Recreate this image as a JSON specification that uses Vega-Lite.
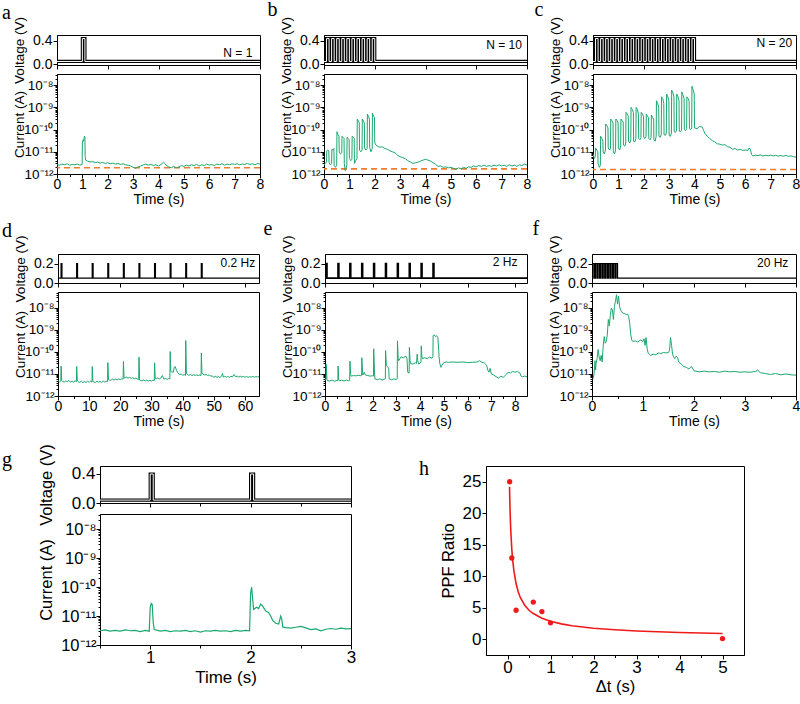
{
"$schema":"https://vega.github.io/schema/vega-lite/v6.json",
"padding":{"top":0,"left":2,"right":0,"bottom":0},
"config":{
 "view":{"stroke":"black","strokeWidth":1},
 "font":"Liberation Sans",
 "axis":{"domainColor":"black","tickColor":"black","labelColor":"black","titleColor":"black","grid":false,"labelFont":"Liberation Sans","titleFont":"Liberation Sans","labelFontSize":14,"titleFontSize":13.5,"titleFontWeight":"normal","labelPadding":1,"tickSize":4,"titlePadding":4,"labelFlush":false,"labelOverlap":false},
 "title":{"anchor":"start","frame":"bounds","font":"Liberation Serif","fontSize":20,"fontWeight":"normal","offset":-4}
},
"concat":[
{"concat":[
{"spacing":0,"hconcat":[
 {"title":{"text":"a","offset":12},"width":6,"height":10,"view":{"stroke":null},"data":{"values":[]},"mark":{"type":"point"}},
 {"bounds":"flush","spacing":9,"vconcat":[
  {"width":203,"height":30,
   "data":{"values":[{"t":0,"v":0.05},{"t":1.0,"v":0.05},{"t":1.0,"v":0.44},{"t":1.1,"v":0.44},{"t":1.1,"v":0.05},{"t":8,"v":0.05}]},
   "layer":[
    {"mark":{"type":"line","color":"black","strokeWidth":3.2},"encoding":{
     "x":{"field":"t","type":"quantitative","scale":{"domain":[0,8],"nice":false},"axis":{"title":null,"labels":false,"values":[0,0.5,1,1.5,2,2.5,3,3.5,4,4.5,5,5.5,6,6.5,7,7.5,8],"tickSize":{"condition":{"test":"datum.value%1==0","value":4},"value":2.5}}},
     "y":{"field":"v","type":"quantitative","scale":{"domain":[-0.01,0.5],"nice":false,"zero":false},"axis":{"title":"Voltage (V)","titleX":-31,"values":[0,0.2,0.4],"format":".1f"}},
     "order":{"value":null}}},
    {"mark":{"type":"line","color":"white","strokeWidth":1},"encoding":{"x":{"field":"t","type":"quantitative"},"y":{"field":"v","type":"quantitative"},"order":{"value":null}}},
    {"transform":[{"filter":"datum.t==8"}],"mark":{"type":"text","text":"N = 1","align":"right","baseline":"middle","fontSize":12,"font":"Liberation Sans","color":"black"},"encoding":{"x":{"datum":7.7,"type":"quantitative"},"y":{"datum":0.2,"type":"quantitative"}}}
   ]},
  {"width":203,"height":100,
   "layer":[
    {"data":{"values":[{"i":1.9e-12}]},"mark":{"type":"rule","color":"#f07d2c","strokeWidth":1.6,"strokeDash":[6,4]},"encoding":{"y":{"field":"i","type":"quantitative"}}},
    {"data":{"values":[{"t":0,"i":2.7e-12},{"t":0.1,"i":2.5e-12},{"t":0.2,"i":2.8e-12},{"t":0.3,"i":2.6e-12},{"t":0.4,"i":2.9e-12},{"t":0.5,"i":2.5e-12},{"t":0.6,"i":2.7e-12},{"t":0.7,"i":2.6e-12},{"t":0.8,"i":2.8e-12},{"t":0.9,"i":2.5e-12},{"t":0.99,"i":2.7e-12},{"t":1.0,"i":2.5e-11},{"t":1.03,"i":3.5e-11},{"t":1.05,"i":3.0e-11},{"t":1.08,"i":5.0e-11},{"t":1.1,"i":4.5e-11},{"t":1.11,"i":6e-12},{"t":1.13,"i":4.2e-12},{"t":1.2,"i":3.8e-12},{"t":1.3,"i":3.5e-12},{"t":1.4,"i":3.6e-12},{"t":1.5,"i":3.3e-12},{"t":1.6,"i":3.4e-12},{"t":1.7,"i":3.1e-12},{"t":1.8,"i":3.3e-12},{"t":1.9,"i":3.0e-12},{"t":2.0,"i":3.2e-12},{"t":2.1,"i":2.9e-12},{"t":2.2,"i":3.1e-12},{"t":2.3,"i":2.8e-12},{"t":2.4,"i":3.0e-12},{"t":2.5,"i":2.7e-12},{"t":2.6,"i":2.9e-12},{"t":2.7,"i":2.6e-12},{"t":2.8,"i":2.5e-12},{"t":2.9,"i":2.3e-12},{"t":3.0,"i":2.0e-12},{"t":3.1,"i":1.8e-12},{"t":3.2,"i":2.1e-12},{"t":3.3,"i":2.3e-12},{"t":3.4,"i":2.6e-12},{"t":3.5,"i":2.8e-12},{"t":3.6,"i":2.5e-12},{"t":3.7,"i":2.7e-12},{"t":3.8,"i":2.4e-12},{"t":3.9,"i":2.6e-12},{"t":4.0,"i":2.3e-12},{"t":4.1,"i":2.7e-12},{"t":4.2,"i":3.4e-12},{"t":4.25,"i":3.0e-12},{"t":4.3,"i":2.5e-12},{"t":4.4,"i":2.1e-12},{"t":4.5,"i":1.9e-12},{"t":4.6,"i":2.2e-12},{"t":4.7,"i":1.9e-12},{"t":4.8,"i":2.1e-12},{"t":4.9,"i":2.4e-12},{"t":5.0,"i":2.2e-12},{"t":5.1,"i":2.5e-12},{"t":5.2,"i":2.3e-12},{"t":5.3,"i":2.6e-12},{"t":5.4,"i":2.4e-12},{"t":5.5,"i":2.7e-12},{"t":5.6,"i":2.3e-12},{"t":5.7,"i":2.6e-12},{"t":5.8,"i":2.4e-12},{"t":5.9,"i":2.8e-12},{"t":6.0,"i":2.5e-12},{"t":6.1,"i":2.7e-12},{"t":6.2,"i":2.4e-12},{"t":6.3,"i":2.8e-12},{"t":6.4,"i":2.6e-12},{"t":6.5,"i":2.9e-12},{"t":6.6,"i":2.5e-12},{"t":6.7,"i":2.8e-12},{"t":6.8,"i":2.6e-12},{"t":6.9,"i":2.9e-12},{"t":7.0,"i":2.7e-12},{"t":7.1,"i":2.9e-12},{"t":7.2,"i":2.6e-12},{"t":7.3,"i":2.8e-12},{"t":7.4,"i":2.7e-12},{"t":7.5,"i":3.0e-12},{"t":7.6,"i":2.7e-12},{"t":7.7,"i":2.9e-12},{"t":7.8,"i":2.6e-12},{"t":7.9,"i":3.0e-12},{"t":8.0,"i":2.8e-12}]},
     "mark":{"type":"line","color":"#1ba86e","strokeWidth":1,"clip":true},
     "encoding":{
      "x":{"field":"t","type":"quantitative","scale":{"domain":[0,8],"nice":false},"axis":{"title":"Time (s)","titleFontSize":14,"labelPadding":-1,"titlePadding":1,"values":[0,0.5,1,1.5,2,2.5,3,3.5,4,4.5,5,5.5,6,6.5,7,7.5,8],"labelExpr":"datum.value%1==0?format(datum.value,'d'):''","tickSize":{"condition":{"test":"datum.value%1==0","value":4},"value":2.5}}},
      "y":{"field":"i","type":"quantitative","scale":{"type":"log","domain":[1e-12,3.2e-8],"nice":false},"axis":{"title":"Current (A)","titleX":-31,"labelFontSize":13.5,"labelPadding":0,"values":[1e-12,2e-12,3e-12,4e-12,5e-12,6e-12,7e-12,8e-12,9e-12,1e-11,2e-11,3e-11,4e-11,5e-11,6e-11,7e-11,8e-11,9e-11,1e-10,2e-10,3e-10,4e-10,5e-10,6e-10,7e-10,8e-10,9e-10,1e-9,2e-9,3e-9,4e-9,5e-9,6e-9,7e-9,8e-9,9e-9,1e-8,2e-8,3e-8],"labelExpr":"datum.value==1e-8?'10⁻⁸':datum.value==1e-9?'10⁻⁹':datum.value==1e-10?'10⁻¹⁰':datum.value==1e-11?'10⁻¹¹':datum.value==1e-12?'10⁻¹²':''","tickSize":{"condition":{"test":"indexof([1e-12,1e-11,1e-10,1e-9,1e-8],datum.value)>=0","value":4},"value":2}}},
      "order":{"value":null}}}
   ]}
 ]},
 {"title":{"text":"b","dx":-11},"bounds":"flush","spacing":9,"vconcat":[
  {"width":203,"height":30,
   "data":{"values":[{"t":0,"v":0.05},{"t":0.1,"v":0.05},{"t":0.1,"v":0.44},{"t":0.2,"v":0.44},{"t":0.2,"v":0.05},{"t":0.3,"v":0.05},{"t":0.3,"v":0.44},{"t":0.4,"v":0.44},{"t":0.4,"v":0.05},{"t":0.5,"v":0.05},{"t":0.5,"v":0.44},{"t":0.6,"v":0.44},{"t":0.6,"v":0.05},{"t":0.7,"v":0.05},{"t":0.7,"v":0.44},{"t":0.8,"v":0.44},{"t":0.8,"v":0.05},{"t":0.9,"v":0.05},{"t":0.9,"v":0.44},{"t":1.0,"v":0.44},{"t":1.0,"v":0.05},{"t":1.1,"v":0.05},{"t":1.1,"v":0.44},{"t":1.2,"v":0.44},{"t":1.2,"v":0.05},{"t":1.3,"v":0.05},{"t":1.3,"v":0.44},{"t":1.4,"v":0.44},{"t":1.4,"v":0.05},{"t":1.5,"v":0.05},{"t":1.5,"v":0.44},{"t":1.6,"v":0.44},{"t":1.6,"v":0.05},{"t":1.7,"v":0.05},{"t":1.7,"v":0.44},{"t":1.8,"v":0.44},{"t":1.8,"v":0.05},{"t":1.9,"v":0.05},{"t":1.9,"v":0.44},{"t":2.0,"v":0.44},{"t":2.0,"v":0.05},{"t":8,"v":0.05}]},
   "layer":[
    {"mark":{"type":"line","color":"black","strokeWidth":3.2},"encoding":{
     "x":{"field":"t","type":"quantitative","scale":{"domain":[0,8],"nice":false},"axis":{"title":null,"labels":false,"values":[0,0.5,1,1.5,2,2.5,3,3.5,4,4.5,5,5.5,6,6.5,7,7.5,8],"tickSize":{"condition":{"test":"datum.value%1==0","value":4},"value":2.5}}},
     "y":{"field":"v","type":"quantitative","scale":{"domain":[-0.01,0.5],"nice":false,"zero":false},"axis":{"title":"Voltage (V)","titleX":-31,"values":[0,0.2,0.4],"format":".1f"}},
     "order":{"value":null}}},
    {"mark":{"type":"line","color":"white","strokeWidth":1},"encoding":{"x":{"field":"t","type":"quantitative"},"y":{"field":"v","type":"quantitative"},"order":{"value":null}}},
    {"transform":[{"filter":"datum.t==8"}],"mark":{"type":"text","text":"N = 10","align":"right","baseline":"middle","fontSize":12,"font":"Liberation Sans","color":"black"},"encoding":{"x":{"datum":7.8,"type":"quantitative"},"y":{"datum":0.33,"type":"quantitative"}}}
   ]},
  {"width":203,"height":100,
   "layer":[
    {"data":{"values":[{"i":1.7e-12}]},"mark":{"type":"rule","color":"#f07d2c","strokeWidth":1.6,"strokeDash":[6,4]},"encoding":{"y":{"field":"i","type":"quantitative"}}},
    {"data":{"values":[{"t":0,"i":2.5e-12},{"t":0.05,"i":3.0e-12},{"t":0.1,"i":3.5e-12},{"t":0.11,"i":1.1e-11},{"t":0.15,"i":1.2e-11},{"t":0.19,"i":1.1e-11},{"t":0.2,"i":3.2e-12},{"t":0.25,"i":2.6e-12},{"t":0.3,"i":3.0e-12},{"t":0.31,"i":1.3e-11},{"t":0.35,"i":1.2e-11},{"t":0.39,"i":1.4e-11},{"t":0.4,"i":2.4e-12},{"t":0.45,"i":2.0e-12},{"t":0.5,"i":2.5e-12},{"t":0.51,"i":8e-11},{"t":0.55,"i":6e-11},{"t":0.59,"i":5e-11},{"t":0.6,"i":1e-11},{"t":0.65,"i":8e-12},{"t":0.7,"i":9e-12},{"t":0.71,"i":5e-11},{"t":0.75,"i":4.5e-11},{"t":0.79,"i":4e-11},{"t":0.8,"i":3e-12},{"t":0.84,"i":1.4e-12},{"t":0.9,"i":2.5e-12},{"t":0.91,"i":4.5e-11},{"t":0.95,"i":4e-11},{"t":0.99,"i":3.5e-11},{"t":1.0,"i":5e-12},{"t":1.05,"i":4e-12},{"t":1.1,"i":4.5e-12},{"t":1.11,"i":5e-11},{"t":1.15,"i":4.5e-11},{"t":1.19,"i":4e-11},{"t":1.2,"i":3e-12},{"t":1.25,"i":4e-12},{"t":1.3,"i":5e-12},{"t":1.31,"i":3e-10},{"t":1.35,"i":2.5e-10},{"t":1.39,"i":2e-10},{"t":1.4,"i":1.2e-11},{"t":1.45,"i":1e-11},{"t":1.5,"i":1.2e-11},{"t":1.51,"i":3e-10},{"t":1.55,"i":2.5e-10},{"t":1.59,"i":2e-10},{"t":1.6,"i":1.5e-11},{"t":1.65,"i":1.2e-11},{"t":1.7,"i":1.4e-11},{"t":1.71,"i":5e-10},{"t":1.75,"i":4e-10},{"t":1.79,"i":3e-10},{"t":1.8,"i":1.5e-11},{"t":1.85,"i":1e-11},{"t":1.9,"i":1.4e-11},{"t":1.91,"i":5.5e-10},{"t":1.95,"i":4e-10},{"t":1.99,"i":3.5e-10},{"t":2.0,"i":2.5e-11},{"t":2.05,"i":2e-11},{"t":2.1,"i":1.8e-11},{"t":2.2,"i":1.6e-11},{"t":2.3,"i":1.7e-11},{"t":2.4,"i":1.4e-11},{"t":2.5,"i":1.3e-11},{"t":2.6,"i":1.1e-11},{"t":2.7,"i":1.0e-11},{"t":2.8,"i":9e-12},{"t":2.9,"i":7e-12},{"t":3.0,"i":6e-12},{"t":3.1,"i":5.5e-12},{"t":3.2,"i":5e-12},{"t":3.3,"i":4e-12},{"t":3.4,"i":3.5e-12},{"t":3.5,"i":3e-12},{"t":3.6,"i":3.2e-12},{"t":3.7,"i":3.4e-12},{"t":3.8,"i":3.8e-12},{"t":3.9,"i":4.2e-12},{"t":4.0,"i":4.6e-12},{"t":4.1,"i":4.2e-12},{"t":4.2,"i":3.8e-12},{"t":4.3,"i":3.2e-12},{"t":4.4,"i":2.7e-12},{"t":4.5,"i":2.2e-12},{"t":4.6,"i":2.3e-12},{"t":4.7,"i":2.0e-12},{"t":4.8,"i":2.1e-12},{"t":4.9,"i":1.9e-12},{"t":5.0,"i":2.0e-12},{"t":5.1,"i":1.8e-12},{"t":5.2,"i":1.6e-12},{"t":5.3,"i":1.9e-12},{"t":5.4,"i":1.7e-12},{"t":5.5,"i":2.0e-12},{"t":5.6,"i":1.8e-12},{"t":5.7,"i":2.1e-12},{"t":5.8,"i":2.0e-12},{"t":5.9,"i":2.3e-12},{"t":6.0,"i":2.1e-12},{"t":6.1,"i":2.4e-12},{"t":6.2,"i":2.2e-12},{"t":6.3,"i":2.5e-12},{"t":6.4,"i":2.2e-12},{"t":6.5,"i":2.4e-12},{"t":6.6,"i":2.2e-12},{"t":6.7,"i":2.5e-12},{"t":6.8,"i":2.3e-12},{"t":6.9,"i":2.6e-12},{"t":7.0,"i":2.3e-12},{"t":7.1,"i":2.5e-12},{"t":7.2,"i":2.2e-12},{"t":7.3,"i":2.6e-12},{"t":7.4,"i":2.3e-12},{"t":7.5,"i":2.5e-12},{"t":7.6,"i":2.2e-12},{"t":7.7,"i":2.6e-12},{"t":7.8,"i":2.4e-12},{"t":7.9,"i":2.8e-12},{"t":8.0,"i":2.5e-12}]},
     "mark":{"type":"line","color":"#1ba86e","strokeWidth":1,"clip":true},
     "encoding":{
      "x":{"field":"t","type":"quantitative","scale":{"domain":[0,8],"nice":false},"axis":{"title":"Time (s)","titleFontSize":14,"labelPadding":-1,"titlePadding":1,"values":[0,0.5,1,1.5,2,2.5,3,3.5,4,4.5,5,5.5,6,6.5,7,7.5,8],"labelExpr":"datum.value%1==0?format(datum.value,'d'):''","tickSize":{"condition":{"test":"datum.value%1==0","value":4},"value":2.5}}},
      "y":{"field":"i","type":"quantitative","scale":{"type":"log","domain":[1e-12,3.2e-8],"nice":false},"axis":{"title":"Current (A)","titleX":-31,"labelFontSize":13.5,"labelPadding":0,"values":[1e-12,2e-12,3e-12,4e-12,5e-12,6e-12,7e-12,8e-12,9e-12,1e-11,2e-11,3e-11,4e-11,5e-11,6e-11,7e-11,8e-11,9e-11,1e-10,2e-10,3e-10,4e-10,5e-10,6e-10,7e-10,8e-10,9e-10,1e-9,2e-9,3e-9,4e-9,5e-9,6e-9,7e-9,8e-9,9e-9,1e-8,2e-8,3e-8],"labelExpr":"datum.value==1e-8?'10⁻⁸':datum.value==1e-9?'10⁻⁹':datum.value==1e-10?'10⁻¹⁰':datum.value==1e-11?'10⁻¹¹':datum.value==1e-12?'10⁻¹²':''","tickSize":{"condition":{"test":"indexof([1e-12,1e-11,1e-10,1e-9,1e-8],datum.value)>=0","value":4},"value":2}}},
      "order":{"value":null}}}
   ]}
 ]},
 {"title":{"text":"c","dx":-13},"bounds":"flush","spacing":9,"vconcat":[
  {"width":203,"height":30,
   "data":{"values":[{"t":0,"v":0.05},{"t":0.1,"v":0.05},{"t":0.1,"v":0.44},{"t":0.2,"v":0.44},{"t":0.2,"v":0.05},{"t":0.3,"v":0.05},{"t":0.3,"v":0.44},{"t":0.4,"v":0.44},{"t":0.4,"v":0.05},{"t":0.5,"v":0.05},{"t":0.5,"v":0.44},{"t":0.6,"v":0.44},{"t":0.6,"v":0.05},{"t":0.7,"v":0.05},{"t":0.7,"v":0.44},{"t":0.8,"v":0.44},{"t":0.8,"v":0.05},{"t":0.9,"v":0.05},{"t":0.9,"v":0.44},{"t":1.0,"v":0.44},{"t":1.0,"v":0.05},{"t":1.1,"v":0.05},{"t":1.1,"v":0.44},{"t":1.2,"v":0.44},{"t":1.2,"v":0.05},{"t":1.3,"v":0.05},{"t":1.3,"v":0.44},{"t":1.4,"v":0.44},{"t":1.4,"v":0.05},{"t":1.5,"v":0.05},{"t":1.5,"v":0.44},{"t":1.6,"v":0.44},{"t":1.6,"v":0.05},{"t":1.7,"v":0.05},{"t":1.7,"v":0.44},{"t":1.8,"v":0.44},{"t":1.8,"v":0.05},{"t":1.9,"v":0.05},{"t":1.9,"v":0.44},{"t":2.0,"v":0.44},{"t":2.0,"v":0.05},{"t":2.1,"v":0.05},{"t":2.1,"v":0.44},{"t":2.2,"v":0.44},{"t":2.2,"v":0.05},{"t":2.3,"v":0.05},{"t":2.3,"v":0.44},{"t":2.4,"v":0.44},{"t":2.4,"v":0.05},{"t":2.5,"v":0.05},{"t":2.5,"v":0.44},{"t":2.6,"v":0.44},{"t":2.6,"v":0.05},{"t":2.7,"v":0.05},{"t":2.7,"v":0.44},{"t":2.8,"v":0.44},{"t":2.8,"v":0.05},{"t":2.9,"v":0.05},{"t":2.9,"v":0.44},{"t":3.0,"v":0.44},{"t":3.0,"v":0.05},{"t":3.1,"v":0.05},{"t":3.1,"v":0.44},{"t":3.2,"v":0.44},{"t":3.2,"v":0.05},{"t":3.3,"v":0.05},{"t":3.3,"v":0.44},{"t":3.4,"v":0.44},{"t":3.4,"v":0.05},{"t":3.5,"v":0.05},{"t":3.5,"v":0.44},{"t":3.6,"v":0.44},{"t":3.6,"v":0.05},{"t":3.7,"v":0.05},{"t":3.7,"v":0.44},{"t":3.8,"v":0.44},{"t":3.8,"v":0.05},{"t":3.9,"v":0.05},{"t":3.9,"v":0.44},{"t":4.0,"v":0.44},{"t":4.0,"v":0.05},{"t":8,"v":0.05}]},
   "layer":[
    {"mark":{"type":"line","color":"black","strokeWidth":3.2},"encoding":{
     "x":{"field":"t","type":"quantitative","scale":{"domain":[0,8],"nice":false},"axis":{"title":null,"labels":false,"values":[0,0.5,1,1.5,2,2.5,3,3.5,4,4.5,5,5.5,6,6.5,7,7.5,8],"tickSize":{"condition":{"test":"datum.value%1==0","value":4},"value":2.5}}},
     "y":{"field":"v","type":"quantitative","scale":{"domain":[-0.01,0.5],"nice":false,"zero":false},"axis":{"title":"Voltage (V)","titleX":-31,"values":[0,0.2,0.4],"format":".1f"}},
     "order":{"value":null}}},
    {"mark":{"type":"line","color":"white","strokeWidth":1},"encoding":{"x":{"field":"t","type":"quantitative"},"y":{"field":"v","type":"quantitative"},"order":{"value":null}}},
    {"transform":[{"filter":"datum.t==8"}],"mark":{"type":"text","text":"N = 20","align":"right","baseline":"middle","fontSize":12,"font":"Liberation Sans","color":"black"},"encoding":{"x":{"datum":7.85,"type":"quantitative"},"y":{"datum":0.36,"type":"quantitative"}}}
   ]},
  {"width":203,"height":100,
   "layer":[
    {"data":{"values":[{"i":1.6e-12}]},"mark":{"type":"rule","color":"#f07d2c","strokeWidth":1.6,"strokeDash":[6,4]},"encoding":{"y":{"field":"i","type":"quantitative"}}},
    {"data":{"values":[{"t":0,"i":8e-12},{"t":0.05,"i":5e-12},{"t":0.09,"i":6e-12},{"t":0.1,"i":1.5e-11},{"t":0.15,"i":1.2e-11},{"t":0.19,"i":1e-11},{"t":0.2,"i":3e-12},{"t":0.25,"i":2e-12},{"t":0.29,"i":2.5e-12},{"t":0.3,"i":5e-11},{"t":0.35,"i":4e-11},{"t":0.39,"i":3e-11},{"t":0.4,"i":1e-11},{"t":0.45,"i":8e-12},{"t":0.49,"i":1.2e-11},{"t":0.5,"i":1.8e-10},{"t":0.55,"i":1.5e-10},{"t":0.59,"i":1.2e-10},{"t":0.6,"i":1.5e-11},{"t":0.65,"i":1.2e-11},{"t":0.69,"i":1.4e-11},{"t":0.7,"i":3e-10},{"t":0.75,"i":2.5e-10},{"t":0.79,"i":2e-10},{"t":0.8,"i":1e-11},{"t":0.85,"i":8e-12},{"t":0.89,"i":1.2e-11},{"t":0.9,"i":3e-10},{"t":0.95,"i":2.6e-10},{"t":0.99,"i":2e-10},{"t":1.0,"i":1.5e-11},{"t":1.05,"i":1.2e-11},{"t":1.09,"i":1.8e-11},{"t":1.1,"i":3e-10},{"t":1.15,"i":2.5e-10},{"t":1.19,"i":2.2e-10},{"t":1.2,"i":2e-11},{"t":1.25,"i":1.8e-11},{"t":1.29,"i":2.5e-11},{"t":1.3,"i":6e-10},{"t":1.35,"i":5e-10},{"t":1.39,"i":4e-10},{"t":1.4,"i":3e-11},{"t":1.45,"i":2.5e-11},{"t":1.49,"i":3.5e-11},{"t":1.5,"i":1e-9},{"t":1.55,"i":8e-10},{"t":1.59,"i":6e-10},{"t":1.6,"i":3e-11},{"t":1.65,"i":2.8e-11},{"t":1.69,"i":4e-11},{"t":1.7,"i":1e-9},{"t":1.75,"i":8e-10},{"t":1.79,"i":5e-10},{"t":1.8,"i":4e-11},{"t":1.85,"i":3.5e-11},{"t":1.89,"i":4.5e-11},{"t":1.9,"i":6e-10},{"t":1.95,"i":5e-10},{"t":1.99,"i":4e-10},{"t":2.0,"i":4.5e-11},{"t":2.05,"i":4e-11},{"t":2.09,"i":5e-11},{"t":2.1,"i":5e-10},{"t":2.15,"i":4e-10},{"t":2.19,"i":3.5e-10},{"t":2.2,"i":4e-11},{"t":2.25,"i":3.5e-11},{"t":2.29,"i":4.5e-11},{"t":2.3,"i":4.5e-10},{"t":2.35,"i":3.5e-10},{"t":2.39,"i":3e-10},{"t":2.4,"i":3.5e-11},{"t":2.45,"i":3e-11},{"t":2.49,"i":5e-11},{"t":2.5,"i":2e-9},{"t":2.55,"i":1.5e-9},{"t":2.59,"i":1e-9},{"t":2.6,"i":5e-11},{"t":2.65,"i":4.5e-11},{"t":2.69,"i":6e-11},{"t":2.7,"i":3e-9},{"t":2.75,"i":2.5e-9},{"t":2.79,"i":1.5e-9},{"t":2.8,"i":6e-11},{"t":2.85,"i":5.5e-11},{"t":2.89,"i":7e-11},{"t":2.9,"i":4e-9},{"t":2.95,"i":3e-9},{"t":2.99,"i":2e-9},{"t":3.0,"i":5.5e-11},{"t":3.05,"i":5e-11},{"t":3.09,"i":7e-11},{"t":3.1,"i":6e-9},{"t":3.15,"i":4.5e-9},{"t":3.19,"i":3e-9},{"t":3.2,"i":8e-11},{"t":3.25,"i":7.5e-11},{"t":3.29,"i":9e-11},{"t":3.3,"i":4e-9},{"t":3.35,"i":3e-9},{"t":3.39,"i":2e-9},{"t":3.4,"i":8.5e-11},{"t":3.45,"i":8e-11},{"t":3.49,"i":9.5e-11},{"t":3.5,"i":5e-9},{"t":3.55,"i":3.5e-9},{"t":3.59,"i":2.5e-9},{"t":3.6,"i":1e-10},{"t":3.65,"i":9e-11},{"t":3.69,"i":1.1e-10},{"t":3.7,"i":3e-9},{"t":3.75,"i":2.5e-9},{"t":3.79,"i":1.8e-9},{"t":3.8,"i":1.1e-10},{"t":3.85,"i":1e-10},{"t":3.89,"i":1.2e-10},{"t":3.9,"i":9e-9},{"t":3.95,"i":6e-9},{"t":3.99,"i":4e-9},{"t":4.0,"i":1.2e-10},{"t":4.1,"i":1.1e-10},{"t":4.2,"i":1.4e-10},{"t":4.3,"i":1.3e-10},{"t":4.35,"i":1e-10},{"t":4.4,"i":7e-11},{"t":4.5,"i":5e-11},{"t":4.6,"i":4e-11},{"t":4.7,"i":3.2e-11},{"t":4.8,"i":2.8e-11},{"t":4.9,"i":2.3e-11},{"t":5.0,"i":2.2e-11},{"t":5.1,"i":2e-11},{"t":5.2,"i":2.1e-11},{"t":5.3,"i":1.7e-11},{"t":5.4,"i":1.6e-11},{"t":5.5,"i":1.3e-11},{"t":5.6,"i":1.4e-11},{"t":5.7,"i":1.2e-11},{"t":5.8,"i":1.3e-11},{"t":5.9,"i":1.15e-11},{"t":6.0,"i":1.2e-11},{"t":6.1,"i":1.15e-11},{"t":6.15,"i":1.5e-11},{"t":6.2,"i":1.3e-11},{"t":6.25,"i":7.5e-12},{"t":6.3,"i":6.5e-12},{"t":6.4,"i":7e-12},{"t":6.5,"i":6.8e-12},{"t":6.6,"i":7.2e-12},{"t":6.7,"i":6.5e-12},{"t":6.8,"i":7e-12},{"t":6.9,"i":6.6e-12},{"t":7.0,"i":7.1e-12},{"t":7.1,"i":6.5e-12},{"t":7.2,"i":6.9e-12},{"t":7.3,"i":6.4e-12},{"t":7.4,"i":6.8e-12},{"t":7.5,"i":6.3e-12},{"t":7.6,"i":6.9e-12},{"t":7.7,"i":6.2e-12},{"t":7.8,"i":6.6e-12},{"t":7.9,"i":6.0e-12},{"t":8.0,"i":5.8e-12}]},
     "mark":{"type":"line","color":"#1ba86e","strokeWidth":1,"clip":true},
     "encoding":{
      "x":{"field":"t","type":"quantitative","scale":{"domain":[0,8],"nice":false},"axis":{"title":"Time (s)","titleFontSize":14,"labelPadding":-1,"titlePadding":1,"values":[0,0.5,1,1.5,2,2.5,3,3.5,4,4.5,5,5.5,6,6.5,7,7.5,8],"labelExpr":"datum.value%1==0?format(datum.value,'d'):''","tickSize":{"condition":{"test":"datum.value%1==0","value":4},"value":2.5}}},
      "y":{"field":"i","type":"quantitative","scale":{"type":"log","domain":[1e-12,3.2e-8],"nice":false},"axis":{"title":"Current (A)","titleX":-31,"labelFontSize":13.5,"labelPadding":0,"values":[1e-12,2e-12,3e-12,4e-12,5e-12,6e-12,7e-12,8e-12,9e-12,1e-11,2e-11,3e-11,4e-11,5e-11,6e-11,7e-11,8e-11,9e-11,1e-10,2e-10,3e-10,4e-10,5e-10,6e-10,7e-10,8e-10,9e-10,1e-9,2e-9,3e-9,4e-9,5e-9,6e-9,7e-9,8e-9,9e-9,1e-8,2e-8,3e-8],"labelExpr":"datum.value==1e-8?'10⁻⁸':datum.value==1e-9?'10⁻⁹':datum.value==1e-10?'10⁻¹⁰':datum.value==1e-11?'10⁻¹¹':datum.value==1e-12?'10⁻¹²':''","tickSize":{"condition":{"test":"indexof([1e-12,1e-11,1e-10,1e-9,1e-8],datum.value)>=0","value":4},"value":2}}},
      "order":{"value":null}}}
   ]}
 ]}
]},
{"spacing":0,"hconcat":[
 {"title":{"text":"d","offset":13},"width":4,"height":10,"view":{"stroke":null},"data":{"values":[]},"mark":{"type":"point"}},
 {"bounds":"flush","spacing":9,"vconcat":[
  {"width":201,"height":29,
   "data":{"values":[{"t":0,"v":0.05},{"t":1,"v":0.05},{"t":1,"v":0.2},{"t":1.25,"v":0.2},{"t":1.25,"v":0.05},{"t":6,"v":0.05},{"t":6,"v":0.2},{"t":6.25,"v":0.2},{"t":6.25,"v":0.05},{"t":11,"v":0.05},{"t":11,"v":0.2},{"t":11.25,"v":0.2},{"t":11.25,"v":0.05},{"t":16,"v":0.05},{"t":16,"v":0.2},{"t":16.25,"v":0.2},{"t":16.25,"v":0.05},{"t":21,"v":0.05},{"t":21,"v":0.2},{"t":21.25,"v":0.2},{"t":21.25,"v":0.05},{"t":26,"v":0.05},{"t":26,"v":0.2},{"t":26.25,"v":0.2},{"t":26.25,"v":0.05},{"t":31,"v":0.05},{"t":31,"v":0.2},{"t":31.25,"v":0.2},{"t":31.25,"v":0.05},{"t":36,"v":0.05},{"t":36,"v":0.2},{"t":36.25,"v":0.2},{"t":36.25,"v":0.05},{"t":41,"v":0.05},{"t":41,"v":0.2},{"t":41.25,"v":0.2},{"t":41.25,"v":0.05},{"t":46,"v":0.05},{"t":46,"v":0.2},{"t":46.25,"v":0.2},{"t":46.25,"v":0.05},{"t":64.5,"v":0.05}]},
   "layer":[
    {"mark":{"type":"line","color":"black","strokeWidth":1.3},"encoding":{
     "x":{"field":"t","type":"quantitative","scale":{"domain":[0,64.5],"nice":false},"axis":{"title":null,"labels":false,"values":[0,5,10,15,20,25,30,35,40,45,50,55,60],"tickSize":{"condition":{"test":"datum.value%10==0","value":4},"value":2.5}}},
     "y":{"field":"v","type":"quantitative","scale":{"domain":[0,0.3],"nice":false,"zero":false},"axis":{"title":"Voltage (V)","titleX":-31,"values":[0,0.2],"format":".1f"}},
     "order":{"value":null}}},
    {"transform":[{"filter":"datum.t==64.5"}],"mark":{"type":"text","text":"0.2 Hz","align":"right","baseline":"middle","fontSize":12,"font":"Liberation Sans","color":"black"},"encoding":{"x":{"datum":63.3,"type":"quantitative"},"y":{"datum":0.21,"type":"quantitative"}}}
   ]},
  {"width":201,"height":104,
   "data":{"values":[{"t":0,"i":5.0e-12},{"t":0.5,"i":4.4e-12},{"t":0.9,"i":4.8e-12},{"t":1.0,"i":2.3e-11},{"t":1.2,"i":5.0e-12},{"t":1.5,"i":4.5e-12},{"t":2,"i":4.3e-12},{"t":2.5,"i":4.9e-12},{"t":3,"i":4.4e-12},{"t":3.5,"i":5.1e-12},{"t":4,"i":4.2e-12},{"t":4.5,"i":4.8e-12},{"t":5,"i":4.3e-12},{"t":5.5,"i":4.9e-12},{"t":5.9,"i":4.5e-12},{"t":6.0,"i":2.2e-11},{"t":6.2,"i":4.8e-12},{"t":6.5,"i":4.4e-12},{"t":7,"i":4.2e-12},{"t":7.5,"i":4.7e-12},{"t":8,"i":4.0e-12},{"t":8.5,"i":4.6e-12},{"t":9,"i":4.1e-12},{"t":9.5,"i":4.7e-12},{"t":10,"i":4.2e-12},{"t":10.5,"i":4.8e-12},{"t":10.9,"i":4.3e-12},{"t":11.0,"i":2.2e-11},{"t":11.2,"i":4.6e-12},{"t":11.5,"i":4.3e-12},{"t":12,"i":4.1e-12},{"t":12.5,"i":4.7e-12},{"t":13,"i":4.2e-12},{"t":13.5,"i":4.6e-12},{"t":14,"i":4.1e-12},{"t":14.5,"i":4.8e-12},{"t":15,"i":4.3e-12},{"t":15.5,"i":4.7e-12},{"t":15.9,"i":4.6e-12},{"t":16.0,"i":3.3e-11},{"t":16.2,"i":5.6e-12},{"t":16.5,"i":5.3e-12},{"t":17,"i":5.2e-12},{"t":17.5,"i":5.8e-12},{"t":18,"i":5.3e-12},{"t":18.5,"i":5.9e-12},{"t":19,"i":5.4e-12},{"t":19.5,"i":6.0e-12},{"t":20,"i":5.5e-12},{"t":20.5,"i":6.1e-12},{"t":20.9,"i":5.8e-12},{"t":21.0,"i":3.7e-11},{"t":21.2,"i":6.8e-12},{"t":21.5,"i":6.6e-12},{"t":22,"i":7.2e-12},{"t":22.5,"i":6.5e-12},{"t":23,"i":7.0e-12},{"t":23.5,"i":6.3e-12},{"t":24,"i":6.8e-12},{"t":24.5,"i":6.1e-12},{"t":25,"i":6.5e-12},{"t":25.5,"i":5.9e-12},{"t":25.9,"i":5.6e-12},{"t":26.0,"i":5.8e-11},{"t":26.2,"i":5.3e-12},{"t":26.5,"i":5.0e-12},{"t":27,"i":4.9e-12},{"t":27.5,"i":5.4e-12},{"t":28,"i":4.8e-12},{"t":28.5,"i":5.3e-12},{"t":29,"i":4.7e-12},{"t":29.5,"i":5.2e-12},{"t":30,"i":4.8e-12},{"t":30.5,"i":5.3e-12},{"t":30.9,"i":5.0e-12},{"t":31.0,"i":3.2e-11},{"t":31.2,"i":6.2e-12},{"t":31.5,"i":6.0e-12},{"t":32,"i":6.6e-12},{"t":32.5,"i":6.0e-12},{"t":33,"i":6.5e-12},{"t":33.5,"i":8.5e-12},{"t":34,"i":5.8e-12},{"t":34.5,"i":6.3e-12},{"t":35,"i":5.7e-12},{"t":35.5,"i":6.2e-12},{"t":35.9,"i":5.9e-12},{"t":36.0,"i":1.05e-10},{"t":36.2,"i":1.3e-11},{"t":36.5,"i":1.25e-11},{"t":37,"i":1.2e-11},{"t":37.3,"i":2e-11},{"t":37.6,"i":2.2e-11},{"t":38,"i":1.5e-11},{"t":38.5,"i":1.1e-11},{"t":39,"i":9.5e-12},{"t":39.5,"i":1e-11},{"t":40,"i":8.8e-12},{"t":40.5,"i":9.4e-12},{"t":40.9,"i":8.6e-12},{"t":41.0,"i":3.3e-10},{"t":41.2,"i":1.1e-11},{"t":41.5,"i":9.5e-12},{"t":42,"i":8.7e-12},{"t":42.5,"i":9.5e-12},{"t":43,"i":8.5e-12},{"t":43.5,"i":9.3e-12},{"t":44,"i":8.6e-12},{"t":44.5,"i":9.1e-12},{"t":45,"i":8.4e-12},{"t":45.5,"i":9.0e-12},{"t":45.9,"i":8.5e-12},{"t":46.0,"i":9e-11},{"t":46.2,"i":1.1e-11},{"t":46.5,"i":9.8e-12},{"t":47,"i":9e-12},{"t":47.5,"i":9.5e-12},{"t":48,"i":8.6e-12},{"t":48.5,"i":9.0e-12},{"t":49,"i":8.2e-12},{"t":49.5,"i":8.0e-12},{"t":50,"i":7.2e-12},{"t":50.5,"i":7.8e-12},{"t":51,"i":7.1e-12},{"t":51.5,"i":7.6e-12},{"t":52,"i":6.9e-12},{"t":52.5,"i":8.2e-12},{"t":52.8,"i":1.05e-11},{"t":53,"i":7.3e-12},{"t":53.5,"i":7.8e-12},{"t":54,"i":7.1e-12},{"t":54.5,"i":7.7e-12},{"t":55,"i":7.0e-12},{"t":55.5,"i":7.9e-12},{"t":56,"i":7.4e-12},{"t":56.5,"i":9.5e-12},{"t":57,"i":7.5e-12},{"t":57.5,"i":8.0e-12},{"t":58,"i":7.2e-12},{"t":58.5,"i":7.9e-12},{"t":59,"i":7.3e-12},{"t":59.5,"i":7.8e-12},{"t":60,"i":7.1e-12},{"t":60.5,"i":7.7e-12},{"t":61,"i":7.0e-12},{"t":61.5,"i":7.6e-12},{"t":62,"i":7.2e-12},{"t":62.5,"i":7.8e-12},{"t":63,"i":7.1e-12},{"t":63.5,"i":7.7e-12},{"t":64,"i":7.3e-12},{"t":64.5,"i":7.6e-12}]},
   "mark":{"type":"line","color":"#1ba86e","strokeWidth":1,"clip":true},
   "encoding":{
    "x":{"field":"t","type":"quantitative","scale":{"domain":[0,64.5],"nice":false},"axis":{"title":"Time (s)","titleFontSize":14,"labelPadding":-1,"titlePadding":1,"values":[0,5,10,15,20,25,30,35,40,45,50,55,60],"labelExpr":"datum.value%10==0?format(datum.value,'d'):''","tickSize":{"condition":{"test":"datum.value%10==0","value":4},"value":2.5}}},
    "y":{"field":"i","type":"quantitative","scale":{"type":"log","domain":[1e-12,5.3e-8],"nice":false},"axis":{"title":"Current (A)","titleX":-31,"labelFontSize":13.5,"labelPadding":0,"values":[1e-12,2e-12,3e-12,4e-12,5e-12,6e-12,7e-12,8e-12,9e-12,1e-11,2e-11,3e-11,4e-11,5e-11,6e-11,7e-11,8e-11,9e-11,1e-10,2e-10,3e-10,4e-10,5e-10,6e-10,7e-10,8e-10,9e-10,1e-9,2e-9,3e-9,4e-9,5e-9,6e-9,7e-9,8e-9,9e-9,1e-8,2e-8,3e-8,4e-8,5e-8],"labelExpr":"datum.value==1e-8?'10⁻⁸':datum.value==1e-9?'10⁻⁹':datum.value==1e-10?'10⁻¹⁰':datum.value==1e-11?'10⁻¹¹':datum.value==1e-12?'10⁻¹²':''","tickSize":{"condition":{"test":"indexof([1e-12,1e-11,1e-10,1e-9,1e-8],datum.value)>=0","value":4},"value":2}}},
    "order":{"value":null}}}
 ]},
 {"title":{"text":"e","dx":-16},"bounds":"flush","spacing":9,"vconcat":[
  {"width":202,"height":29,
   "data":{"values":[{"t":0,"v":0.05},{"t":0.05,"v":0.05},{"t":0.05,"v":0.2},{"t":0.08,"v":0.2},{"t":0.08,"v":0.05},{"t":0.55,"v":0.05},{"t":0.55,"v":0.2},{"t":0.58,"v":0.2},{"t":0.58,"v":0.05},{"t":1.05,"v":0.05},{"t":1.05,"v":0.2},{"t":1.08,"v":0.2},{"t":1.08,"v":0.05},{"t":1.55,"v":0.05},{"t":1.55,"v":0.2},{"t":1.58,"v":0.2},{"t":1.58,"v":0.05},{"t":2.05,"v":0.05},{"t":2.05,"v":0.2},{"t":2.08,"v":0.2},{"t":2.08,"v":0.05},{"t":2.55,"v":0.05},{"t":2.55,"v":0.2},{"t":2.58,"v":0.2},{"t":2.58,"v":0.05},{"t":3.05,"v":0.05},{"t":3.05,"v":0.2},{"t":3.08,"v":0.2},{"t":3.08,"v":0.05},{"t":3.55,"v":0.05},{"t":3.55,"v":0.2},{"t":3.58,"v":0.2},{"t":3.58,"v":0.05},{"t":4.05,"v":0.05},{"t":4.05,"v":0.2},{"t":4.08,"v":0.2},{"t":4.08,"v":0.05},{"t":4.55,"v":0.05},{"t":4.55,"v":0.2},{"t":4.58,"v":0.2},{"t":4.58,"v":0.05},{"t":8.5,"v":0.05}]},
   "layer":[
    {"mark":{"type":"line","color":"black","strokeWidth":1.8},"encoding":{
     "x":{"field":"t","type":"quantitative","scale":{"domain":[0,8.5],"nice":false},"axis":{"title":null,"labels":false,"values":[0,0.5,1,1.5,2,2.5,3,3.5,4,4.5,5,5.5,6,6.5,7,7.5,8],"tickSize":{"condition":{"test":"datum.value%1==0","value":4},"value":2.5}}},
     "y":{"field":"v","type":"quantitative","scale":{"domain":[0,0.3],"nice":false,"zero":false},"axis":{"title":"Voltage (V)","titleX":-31,"values":[0,0.2],"format":".1f"}},
     "order":{"value":null}}},
    {"transform":[{"filter":"datum.t==8.5"}],"mark":{"type":"text","text":"2 Hz","align":"right","baseline":"middle","fontSize":12,"font":"Liberation Sans","color":"black"},"encoding":{"x":{"datum":8.1,"type":"quantitative"},"y":{"datum":0.22,"type":"quantitative"}}}
   ]},
  {"width":202,"height":104,
   "data":{"values":[{"t":0,"i":5e-12},{"t":0.04,"i":6e-12},{"t":0.05,"i":2.8e-11},{"t":0.08,"i":6e-12},{"t":0.1,"i":5e-12},{"t":0.2,"i":4.8e-12},{"t":0.3,"i":5.3e-12},{"t":0.4,"i":4.7e-12},{"t":0.5,"i":5.1e-12},{"t":0.54,"i":5e-12},{"t":0.55,"i":2.3e-11},{"t":0.58,"i":5.5e-12},{"t":0.6,"i":4.9e-12},{"t":0.7,"i":5.2e-12},{"t":0.8,"i":4.8e-12},{"t":0.9,"i":5.3e-12},{"t":1.0,"i":4.9e-12},{"t":1.04,"i":5e-12},{"t":1.05,"i":3.8e-11},{"t":1.08,"i":9e-12},{"t":1.1,"i":8e-12},{"t":1.2,"i":8.5e-12},{"t":1.3,"i":8.2e-12},{"t":1.4,"i":8.8e-12},{"t":1.5,"i":8.3e-12},{"t":1.54,"i":8.5e-12},{"t":1.55,"i":5.5e-11},{"t":1.58,"i":1.2e-11},{"t":1.6,"i":9e-12},{"t":1.65,"i":1.2e-11},{"t":1.7,"i":9e-12},{"t":1.8,"i":8.5e-12},{"t":1.9,"i":8e-12},{"t":2.0,"i":8.3e-12},{"t":2.04,"i":8e-12},{"t":2.05,"i":1.4e-10},{"t":2.08,"i":1.5e-11},{"t":2.1,"i":6e-12},{"t":2.2,"i":5.5e-12},{"t":2.3,"i":6e-12},{"t":2.4,"i":5.3e-12},{"t":2.5,"i":5.8e-12},{"t":2.54,"i":6e-12},{"t":2.55,"i":1.15e-10},{"t":2.58,"i":2.5e-11},{"t":2.62,"i":2.2e-11},{"t":2.68,"i":1.8e-11},{"t":2.7,"i":6e-12},{"t":2.8,"i":5.5e-12},{"t":2.9,"i":6e-12},{"t":3.0,"i":5.6e-12},{"t":3.04,"i":6e-12},{"t":3.05,"i":3.2e-10},{"t":3.08,"i":5e-11},{"t":3.1,"i":4e-11},{"t":3.2,"i":6e-11},{"t":3.3,"i":5.5e-11},{"t":3.4,"i":6.5e-11},{"t":3.45,"i":5e-11},{"t":3.48,"i":1.2e-11},{"t":3.54,"i":1.1e-11},{"t":3.55,"i":1.6e-10},{"t":3.58,"i":4e-11},{"t":3.6,"i":3e-11},{"t":3.7,"i":2.8e-11},{"t":3.8,"i":3.2e-11},{"t":3.85,"i":3e-11},{"t":3.88,"i":8e-11},{"t":3.9,"i":4e-11},{"t":3.95,"i":2.8e-11},{"t":4.04,"i":3.5e-11},{"t":4.05,"i":1.9e-10},{"t":4.08,"i":6e-11},{"t":4.1,"i":5e-11},{"t":4.2,"i":5.5e-11},{"t":4.3,"i":5e-11},{"t":4.4,"i":5.8e-11},{"t":4.5,"i":5.2e-11},{"t":4.54,"i":6e-11},{"t":4.55,"i":5.5e-10},{"t":4.6,"i":6e-10},{"t":4.65,"i":5e-10},{"t":4.7,"i":5.5e-10},{"t":4.75,"i":4.5e-10},{"t":4.78,"i":1.5e-10},{"t":4.8,"i":6e-11},{"t":4.83,"i":3e-11},{"t":4.88,"i":2e-11},{"t":4.92,"i":2.5e-11},{"t":5.0,"i":3.3e-11},{"t":5.1,"i":3.5e-11},{"t":5.2,"i":3.4e-11},{"t":5.4,"i":3.5e-11},{"t":5.6,"i":3.4e-11},{"t":5.8,"i":3.5e-11},{"t":6.0,"i":3.3e-11},{"t":6.2,"i":3.4e-11},{"t":6.4,"i":3.5e-11},{"t":6.5,"i":4e-11},{"t":6.6,"i":3.4e-11},{"t":6.7,"i":3.2e-11},{"t":6.8,"i":2.5e-11},{"t":6.85,"i":1.5e-11},{"t":6.9,"i":1.2e-11},{"t":6.95,"i":1.8e-11},{"t":7.0,"i":1e-11},{"t":7.1,"i":9e-12},{"t":7.2,"i":7.5e-12},{"t":7.3,"i":6.5e-12},{"t":7.4,"i":8e-12},{"t":7.5,"i":7e-12},{"t":7.6,"i":9e-12},{"t":7.7,"i":1.2e-11},{"t":7.8,"i":1.1e-11},{"t":7.9,"i":1.3e-11},{"t":8.0,"i":1.2e-11},{"t":8.1,"i":1.3e-11},{"t":8.2,"i":1.1e-11},{"t":8.25,"i":8e-12},{"t":8.3,"i":7.5e-12},{"t":8.4,"i":8e-12},{"t":8.5,"i":7.5e-12}]},
   "mark":{"type":"line","color":"#1ba86e","strokeWidth":1,"clip":true},
   "encoding":{
    "x":{"field":"t","type":"quantitative","scale":{"domain":[0,8.5],"nice":false},"axis":{"title":"Time (s)","titleFontSize":14,"labelPadding":-1,"titlePadding":1,"values":[0,0.5,1,1.5,2,2.5,3,3.5,4,4.5,5,5.5,6,6.5,7,7.5,8],"labelExpr":"datum.value%1==0?format(datum.value,'d'):''","tickSize":{"condition":{"test":"datum.value%1==0","value":4},"value":2.5}}},
    "y":{"field":"i","type":"quantitative","scale":{"type":"log","domain":[1e-12,5.3e-8],"nice":false},"axis":{"title":"Current (A)","titleX":-31,"labelFontSize":13.5,"labelPadding":0,"values":[1e-12,2e-12,3e-12,4e-12,5e-12,6e-12,7e-12,8e-12,9e-12,1e-11,2e-11,3e-11,4e-11,5e-11,6e-11,7e-11,8e-11,9e-11,1e-10,2e-10,3e-10,4e-10,5e-10,6e-10,7e-10,8e-10,9e-10,1e-9,2e-9,3e-9,4e-9,5e-9,6e-9,7e-9,8e-9,9e-9,1e-8,2e-8,3e-8,4e-8,5e-8],"labelExpr":"datum.value==1e-8?'10⁻⁸':datum.value==1e-9?'10⁻⁹':datum.value==1e-10?'10⁻¹⁰':datum.value==1e-11?'10⁻¹¹':datum.value==1e-12?'10⁻¹²':''","tickSize":{"condition":{"test":"indexof([1e-12,1e-11,1e-10,1e-9,1e-8],datum.value)>=0","value":4},"value":2}}},
    "order":{"value":null}}}
 ]},
 {"title":{"text":"f","dx":-14},"bounds":"flush","spacing":9,"vconcat":[
  {"width":204,"height":29,
   "data":{"values":[{"t":0,"v":0.05},{"t":0.02,"v":0.05},{"t":0.02,"v":0.2},{"t":0.05,"v":0.2},{"t":0.05,"v":0.05},{"t":0.07,"v":0.05},{"t":0.07,"v":0.2},{"t":0.1,"v":0.2},{"t":0.1,"v":0.05},{"t":0.12,"v":0.05},{"t":0.12,"v":0.2},{"t":0.15,"v":0.2},{"t":0.15,"v":0.05},{"t":0.17,"v":0.05},{"t":0.17,"v":0.2},{"t":0.2,"v":0.2},{"t":0.2,"v":0.05},{"t":0.22,"v":0.05},{"t":0.22,"v":0.2},{"t":0.25,"v":0.2},{"t":0.25,"v":0.05},{"t":0.27,"v":0.05},{"t":0.27,"v":0.2},{"t":0.3,"v":0.2},{"t":0.3,"v":0.05},{"t":0.32,"v":0.05},{"t":0.32,"v":0.2},{"t":0.35,"v":0.2},{"t":0.35,"v":0.05},{"t":0.37,"v":0.05},{"t":0.37,"v":0.2},{"t":0.4,"v":0.2},{"t":0.4,"v":0.05},{"t":0.42,"v":0.05},{"t":0.42,"v":0.2},{"t":0.45,"v":0.2},{"t":0.45,"v":0.05},{"t":0.47,"v":0.05},{"t":0.47,"v":0.2},{"t":0.5,"v":0.2},{"t":0.5,"v":0.05},{"t":4,"v":0.05}]},
   "layer":[
    {"mark":{"type":"line","color":"black","strokeWidth":1.3},"encoding":{
     "x":{"field":"t","type":"quantitative","scale":{"domain":[0,4],"nice":false},"axis":{"title":null,"labels":false,"values":[0,0.5,1,1.5,2,2.5,3,3.5,4],"tickSize":{"condition":{"test":"datum.value%1==0","value":4},"value":2.5}}},
     "y":{"field":"v","type":"quantitative","scale":{"domain":[0,0.3],"nice":false,"zero":false},"axis":{"title":"Voltage (V)","titleX":-31,"values":[0,0.2],"format":".1f"}},
     "order":{"value":null}}},
    {"transform":[{"filter":"datum.t==4"}],"mark":{"type":"text","text":"20 Hz","align":"right","baseline":"middle","fontSize":12,"font":"Liberation Sans","color":"black"},"encoding":{"x":{"datum":3.85,"type":"quantitative"},"y":{"datum":0.21,"type":"quantitative"}}}
   ]},
  {"width":204,"height":104,
   "data":{"values":[{"t":0.02,"i":6e-12},{"t":0.04,"i":1e-11},{"t":0.06,"i":4e-11},{"t":0.07,"i":1.5e-11},{"t":0.08,"i":3e-11},{"t":0.1,"i":5e-11},{"t":0.12,"i":1.3e-10},{"t":0.14,"i":6e-11},{"t":0.16,"i":4e-11},{"t":0.18,"i":7e-11},{"t":0.2,"i":3.5e-11},{"t":0.22,"i":2e-10},{"t":0.24,"i":5e-10},{"t":0.26,"i":2.5e-10},{"t":0.28,"i":3e-10},{"t":0.3,"i":6e-10},{"t":0.32,"i":3e-9},{"t":0.34,"i":1.5e-9},{"t":0.36,"i":5e-9},{"t":0.38,"i":1e-8},{"t":0.4,"i":8e-9},{"t":0.42,"i":3e-9},{"t":0.44,"i":1.2e-8},{"t":0.46,"i":2e-8},{"t":0.48,"i":4e-8},{"t":0.5,"i":1.5e-8},{"t":0.52,"i":3.5e-8},{"t":0.54,"i":1.2e-8},{"t":0.56,"i":8e-9},{"t":0.6,"i":6e-9},{"t":0.64,"i":5.5e-9},{"t":0.68,"i":5e-9},{"t":0.7,"i":5.2e-9},{"t":0.72,"i":4e-9},{"t":0.74,"i":2e-9},{"t":0.76,"i":6e-10},{"t":0.78,"i":3.5e-10},{"t":0.8,"i":3e-10},{"t":0.85,"i":3.2e-10},{"t":0.9,"i":2.8e-10},{"t":0.95,"i":3.5e-10},{"t":1.0,"i":3e-10},{"t":1.02,"i":4e-10},{"t":1.04,"i":2e-10},{"t":1.06,"i":4.5e-10},{"t":1.08,"i":1.5e-10},{"t":1.1,"i":9e-11},{"t":1.15,"i":7e-11},{"t":1.2,"i":8e-11},{"t":1.25,"i":7.5e-11},{"t":1.3,"i":9e-11},{"t":1.35,"i":8.5e-11},{"t":1.4,"i":9.5e-11},{"t":1.45,"i":9e-11},{"t":1.5,"i":9.5e-11},{"t":1.52,"i":1.2e-10},{"t":1.54,"i":4.5e-10},{"t":1.56,"i":2e-10},{"t":1.58,"i":8e-11},{"t":1.6,"i":6e-11},{"t":1.62,"i":5e-11},{"t":1.65,"i":6.5e-11},{"t":1.68,"i":5.5e-11},{"t":1.7,"i":3.5e-11},{"t":1.75,"i":2.8e-11},{"t":1.8,"i":2.2e-11},{"t":1.85,"i":2e-11},{"t":1.9,"i":1.7e-11},{"t":1.95,"i":2.2e-11},{"t":2.0,"i":1.4e-11},{"t":2.1,"i":1.25e-11},{"t":2.2,"i":1.35e-11},{"t":2.3,"i":1.25e-11},{"t":2.4,"i":1.3e-11},{"t":2.5,"i":1.2e-11},{"t":2.6,"i":1.35e-11},{"t":2.7,"i":1.25e-11},{"t":2.8,"i":1.3e-11},{"t":2.9,"i":1.2e-11},{"t":3.0,"i":1.25e-11},{"t":3.1,"i":1.2e-11},{"t":3.2,"i":1.3e-11},{"t":3.25,"i":1.5e-11},{"t":3.3,"i":1.15e-11},{"t":3.4,"i":1.05e-11},{"t":3.5,"i":9.5e-12},{"t":3.6,"i":1.05e-11},{"t":3.7,"i":9.2e-12},{"t":3.8,"i":1e-11},{"t":3.9,"i":9.2e-12},{"t":4.0,"i":8.8e-12}]},
   "mark":{"type":"line","color":"#1ba86e","strokeWidth":1,"clip":true},
   "encoding":{
    "x":{"field":"t","type":"quantitative","scale":{"domain":[0,4],"nice":false},"axis":{"title":"Time (s)","titleFontSize":14,"labelPadding":-1,"titlePadding":1,"values":[0,0.5,1,1.5,2,2.5,3,3.5,4],"labelExpr":"datum.value%1==0?format(datum.value,'d'):''","tickSize":{"condition":{"test":"datum.value%1==0","value":4},"value":2.5}}},
    "y":{"field":"i","type":"quantitative","scale":{"type":"log","domain":[1e-12,5.3e-8],"nice":false},"axis":{"title":"Current (A)","titleX":-31,"labelFontSize":13.5,"labelPadding":0,"values":[1e-12,2e-12,3e-12,4e-12,5e-12,6e-12,7e-12,8e-12,9e-12,1e-11,2e-11,3e-11,4e-11,5e-11,6e-11,7e-11,8e-11,9e-11,1e-10,2e-10,3e-10,4e-10,5e-10,6e-10,7e-10,8e-10,9e-10,1e-9,2e-9,3e-9,4e-9,5e-9,6e-9,7e-9,8e-9,9e-9,1e-8,2e-8,3e-8,4e-8,5e-8],"labelExpr":"datum.value==1e-8?'10⁻⁸':datum.value==1e-9?'10⁻⁹':datum.value==1e-10?'10⁻¹⁰':datum.value==1e-11?'10⁻¹¹':datum.value==1e-12?'10⁻¹²':''","tickSize":{"condition":{"test":"indexof([1e-12,1e-11,1e-10,1e-9,1e-8],datum.value)>=0","value":4},"value":2}}},
    "order":{"value":null}}}
 ]}
]}
],"columns":1,"align":"none","spacing":11},
{"spacing":0,"hconcat":[
 {"title":{"text":"g","dy":6,"offset":2},"width":35,"height":10,"view":{"stroke":null},"data":{"values":[]},"mark":{"type":"point"}},
 {"bounds":"flush","spacing":11,"vconcat":[
  {"width":251,"height":37,
   "data":{"values":[{"t":0.5,"v":0.04},{"t":1.0,"v":0.04},{"t":1.0,"v":0.4},{"t":1.03,"v":0.4},{"t":1.03,"v":0.04},{"t":2.0,"v":0.04},{"t":2.0,"v":0.4},{"t":2.03,"v":0.4},{"t":2.03,"v":0.04},{"t":3.0,"v":0.04}]},
   "layer":[
    {"mark":{"type":"line","color":"black","strokeWidth":3.2},"encoding":{
     "x":{"field":"t","type":"quantitative","scale":{"domain":[0.5,3],"nice":false},"axis":{"title":null,"labels":false,"values":[0.5,1,1.5,2,2.5,3],"tickSize":{"condition":{"test":"datum.value%1==0","value":4},"value":3}}},
     "y":{"field":"v","type":"quantitative","scale":{"domain":[0,0.51],"nice":false,"zero":false},"axis":{"title":"Voltage (V)","titleX":-46,"titleFontSize":16.5,"labelFontSize":17,"values":[0,0.2,0.4],"format":".1f"}},
     "order":{"value":null}}},
    {"mark":{"type":"line","color":"white","strokeWidth":1},"encoding":{"x":{"field":"t","type":"quantitative"},"y":{"field":"v","type":"quantitative"},"order":{"value":null}}}
   ]},
  {"width":251,"height":131,
   "data":{"values":[{"t":0.5,"i":3.1e-12},{"t":0.55,"i":3.3e-12},{"t":0.6,"i":3.0e-12},{"t":0.65,"i":3.2e-12},{"t":0.7,"i":3.0e-12},{"t":0.75,"i":3.3e-12},{"t":0.8,"i":3.1e-12},{"t":0.85,"i":3.2e-12},{"t":0.9,"i":2.9e-12},{"t":0.95,"i":3.2e-12},{"t":0.99,"i":3.0e-12},{"t":1.0,"i":2e-11},{"t":1.01,"i":2.7e-11},{"t":1.02,"i":2.5e-11},{"t":1.03,"i":6e-12},{"t":1.04,"i":3.4e-12},{"t":1.1,"i":3.0e-12},{"t":1.15,"i":3.2e-12},{"t":1.2,"i":2.9e-12},{"t":1.25,"i":3.1e-12},{"t":1.3,"i":3.0e-12},{"t":1.35,"i":3.2e-12},{"t":1.4,"i":2.9e-12},{"t":1.45,"i":3.1e-12},{"t":1.5,"i":2.8e-12},{"t":1.55,"i":3.1e-12},{"t":1.6,"i":3.0e-12},{"t":1.65,"i":3.2e-12},{"t":1.7,"i":3.0e-12},{"t":1.75,"i":3.1e-12},{"t":1.8,"i":2.9e-12},{"t":1.85,"i":3.2e-12},{"t":1.9,"i":3.0e-12},{"t":1.95,"i":3.2e-12},{"t":1.99,"i":3.1e-12},{"t":2.0,"i":6e-11},{"t":2.01,"i":1e-10},{"t":2.02,"i":4e-11},{"t":2.03,"i":1.7e-11},{"t":2.06,"i":2e-11},{"t":2.08,"i":1.8e-11},{"t":2.1,"i":2.6e-11},{"t":2.12,"i":2.2e-11},{"t":2.15,"i":1.5e-11},{"t":2.18,"i":1.3e-11},{"t":2.2,"i":1e-11},{"t":2.22,"i":7e-12},{"t":2.25,"i":5.6e-12},{"t":2.28,"i":5.3e-12},{"t":2.3,"i":1e-11},{"t":2.31,"i":8e-12},{"t":2.32,"i":4.2e-12},{"t":2.35,"i":4.0e-12},{"t":2.4,"i":3.8e-12},{"t":2.45,"i":4.1e-12},{"t":2.5,"i":4.4e-12},{"t":2.55,"i":3.9e-12},{"t":2.6,"i":3.4e-12},{"t":2.65,"i":3.6e-12},{"t":2.7,"i":3.1e-12},{"t":2.75,"i":3.5e-12},{"t":2.8,"i":3.7e-12},{"t":2.85,"i":3.5e-12},{"t":2.9,"i":3.8e-12},{"t":2.95,"i":3.6e-12},{"t":3.0,"i":3.7e-12}]},
   "mark":{"type":"line","color":"#1ba86e","strokeWidth":1.2,"clip":true},
   "encoding":{
    "x":{"field":"t","type":"quantitative","scale":{"domain":[0.5,3],"nice":false},"axis":{"title":"Time (s)","titleFontSize":17,"labelFontSize":17,"labelPadding":0,"titlePadding":4,"values":[0.5,1,1.5,2,2.5,3],"labelExpr":"datum.value%1==0?format(datum.value,'d'):''","tickSize":{"condition":{"test":"datum.value%1==0","value":4},"value":3}}},
    "y":{"field":"i","type":"quantitative","scale":{"type":"log","domain":[1e-12,3.3e-8],"nice":false},"axis":{"title":"Current (A)","titleX":-46,"titleFontSize":16.5,"labelFontSize":16.5,"labelPadding":0,"values":[1e-12,2e-12,3e-12,4e-12,5e-12,6e-12,7e-12,8e-12,9e-12,1e-11,2e-11,3e-11,4e-11,5e-11,6e-11,7e-11,8e-11,9e-11,1e-10,2e-10,3e-10,4e-10,5e-10,6e-10,7e-10,8e-10,9e-10,1e-9,2e-9,3e-9,4e-9,5e-9,6e-9,7e-9,8e-9,9e-9,1e-8,2e-8,3e-8],"labelExpr":"datum.value==1e-8?'10⁻⁸':datum.value==1e-9?'10⁻⁹':datum.value==1e-10?'10⁻¹⁰':datum.value==1e-11?'10⁻¹¹':datum.value==1e-12?'10⁻¹²':''","tickSize":{"condition":{"test":"indexof([1e-12,1e-11,1e-10,1e-9,1e-8],datum.value)>=0","value":4},"value":2}}},
    "order":{"value":null}}}
 ]},
 {"title":{"text":"h","dx":61,"offset":-4,"dy":9},"width":81,"height":10,"view":{"stroke":null},"data":{"values":[]},"mark":{"type":"point"}},
 {"width":258,"height":189,
  "encoding":{
   "x":{"field":"dt","type":"quantitative","scale":{"domain":[-0.5,5.5],"nice":false,"zero":false},"axis":{"title":"Δt (s)","titleFontSize":16.5,"labelFontSize":17,"labelPadding":0,"titlePadding":3,"labelOverlap":false,"values":[0,0.5,1,1.5,2,2.5,3,3.5,4,4.5,5],"labelExpr":"datum.value%1==0?format(datum.value,'d'):''","tickSize":{"condition":{"test":"datum.value%1==0","value":4},"value":2.5}}},
   "y":{"field":"r","type":"quantitative","scale":{"domain":[-2.5,27.5],"nice":false,"zero":false},"axis":{"title":"PPF Ratio","titleX":-30,"titleFontSize":16.5,"labelFontSize":17,"labelPadding":1,"labelOverlap":false,"values":[0,5,10,15,20,25]}}},
  "layer":[
   {"data":{"values":[{"dt":0.047,"r":24.2},{"dt":0.05,"r":23.2},{"dt":0.06,"r":20.4},{"dt":0.07,"r":18.3},{"dt":0.08,"r":16.7},{"dt":0.1,"r":14.3},{"dt":0.12,"r":12.6},{"dt":0.15,"r":10.8},{"dt":0.2,"r":8.8},{"dt":0.25,"r":7.5},{"dt":0.3,"r":6.6},{"dt":0.4,"r":5.4},{"dt":0.5,"r":4.6},{"dt":0.6,"r":4.08},{"dt":0.8,"r":3.33},{"dt":1,"r":2.85},{"dt":1.25,"r":2.44},{"dt":1.5,"r":2.15},{"dt":2,"r":1.75},{"dt":2.5,"r":1.5},{"dt":3,"r":1.32},{"dt":3.5,"r":1.19},{"dt":4,"r":1.08},{"dt":4.5,"r":0.99},{"dt":5,"r":0.92}]},
    "mark":{"type":"line","color":"#f01a1a","strokeWidth":1.6}},
   {"data":{"values":[{"dt":0.05,"r":25},{"dt":0.1,"r":12.9},{"dt":0.2,"r":4.6},{"dt":0.6,"r":5.9},{"dt":0.8,"r":4.4},{"dt":1,"r":2.6},{"dt":5,"r":0.1}]},
    "mark":{"type":"circle","color":"#f01a1a","size":28,"opacity":1}}
  ]}
]}
],
"columns":1,"align":"none","spacing":14
}
